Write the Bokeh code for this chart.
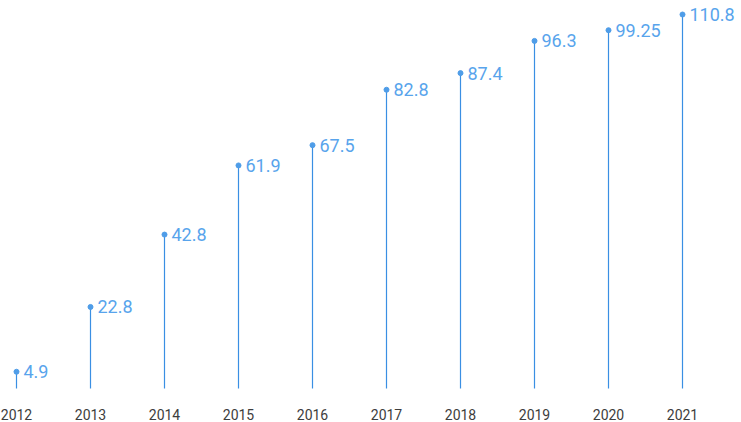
import numpy as np
from bokeh.plotting import figure
from bokeh.models import Range1d, ColumnDataSource
from bokeh.core.properties import value
from bokeh.embed import file_html
from bokeh.resources import INLINE

years = ["2012", "2013", "2014", "2015", "2016", "2017", "2018", "2019", "2020", "2021"]
values = [4.9, 22.8, 42.8, 61.9, 67.5, 82.8, 87.4, 96.3, 99.25, 110.8]

W, H = 741, 422
PX_X = 74.0          # pixels per category step
X0_PX = 16           # pixel position of first category
PX_Y = 3.62          # pixels per value unit
BASE_PX = 389        # pixel row (from top) of value 0
TOP_DOT_PX = 14      # pixel row where points beyond the range are pinned
YEAR_BASE_PX = 414   # baseline row of category labels

x_start = -X0_PX / PX_X
x_end = x_start + W / PX_X
y_end = BASE_PX / PX_Y
y_start = -(H - BASE_PX) / PX_Y
y_cap = (BASE_PX - TOP_DOT_PX) / PX_Y
year_label_y = -(YEAR_BASE_PX - BASE_PX) / PX_Y
line_bottom = -(388 - BASE_PX) / PX_Y

xs = list(range(len(years)))
shown = [min(v, y_cap) for v in values]
labels = [f"{v:g}" for v in values]

src = ColumnDataSource(dict(x=xs, y=shown, zero=[line_bottom] * len(xs), lab=labels,
                            year=years, ly=[year_label_y] * len(xs)))

p = figure(width=W, height=H, output_backend="svg", toolbar_location=None,
           x_axis_type=None, y_axis_type=None,
           x_range=Range1d(x_start, x_end), y_range=Range1d(y_start, y_end),
           min_border=0)
p.grid.visible = False
p.outline_line_color = None
p.background_fill_color = "white"
p.border_fill_color = "white"

p.segment(x0="x", y0="zero", x1="x", y1="y", source=src,
          line_color="#3a8fe3", line_width=1.2)
p.scatter(x="x", y="y", source=src, size=5, fill_color="#4f9de8",
          line_color="#4f9de8")
p.text(x="x", y="y", text="lab", source=src, x_offset=7,
       text_baseline="middle", text_align="left",
       text_font=value("Roboto"), text_font_size="18px",
       text_color="#58a4ec")
p.text(x="x", y="ly", text="year", source=src,
       text_baseline="alphabetic", text_align="center",
       text_font=value("Roboto"), text_font_size="14px",
       text_color="#3d3d3d")

open("out.html", "w").write(file_html(p, INLINE))
